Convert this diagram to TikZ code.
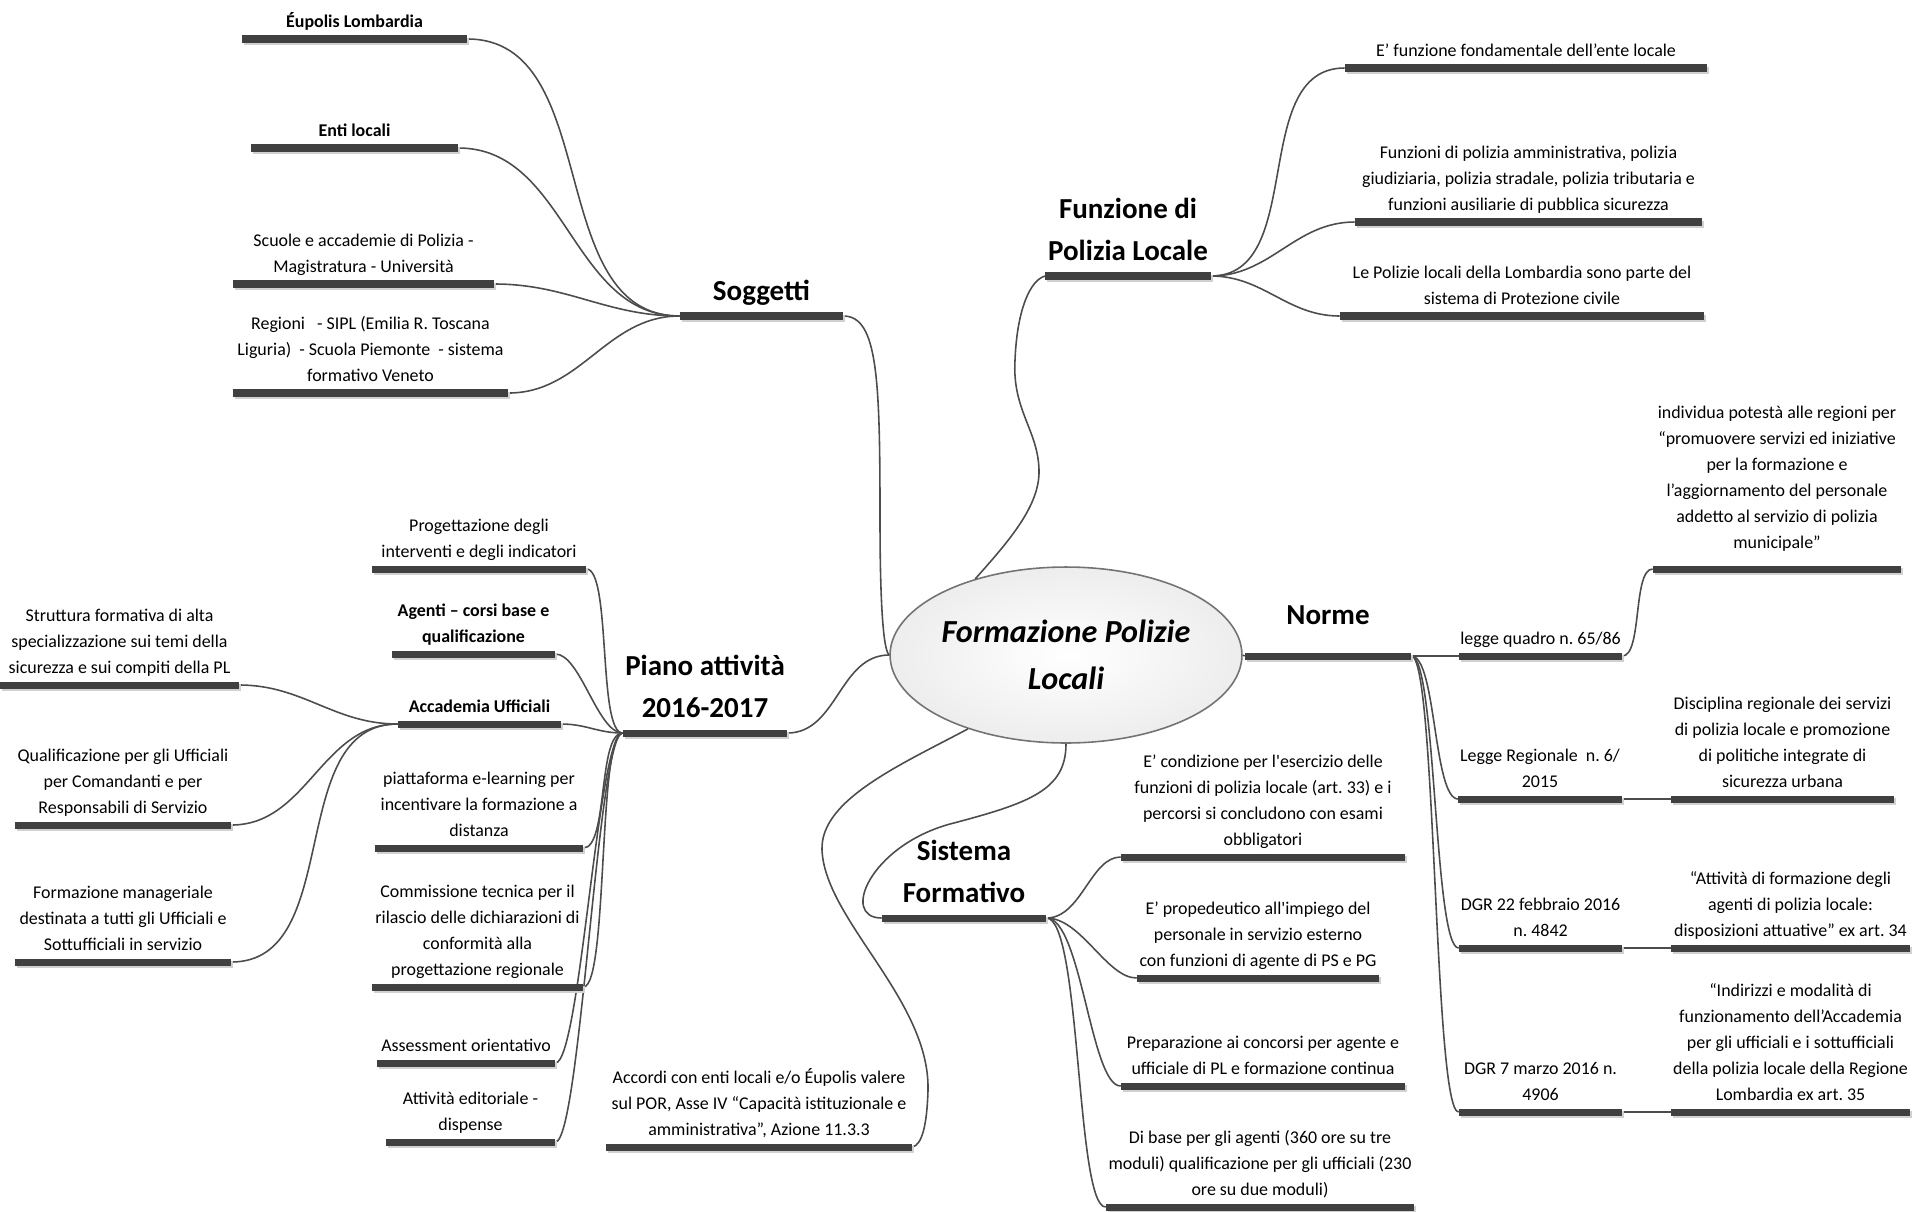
\documentclass[tikz,border=0pt]{standalone}
\usepackage{fontspec}
\setmainfont{Carlito}
\usepackage{tikz}
\usetikzlibrary{shapes.geometric}
\frenchspacing

\begin{document}
\begin{tikzpicture}[x=0.02cm, y=-0.02cm,
  leaf/.style={font=\fontsize{10.2}{14.8}\selectfont, align=center, inner xsep=0pt, inner ysep=6.6pt,
    text depth=0pt, anchor=south, minimum width=#1*0.02cm},
  leafbold/.style={leaf=#1, font=\fontsize{10.2}{14.8}\selectfont\bfseries},
  heading/.style={leaf=#1, font=\fontsize{16.5}{24}\selectfont\bfseries, inner ysep=8.5pt},
  barline/.style={line width=4pt, draw=black!75},
  barshade/.style={line width=4pt, draw=black!18},
  branch/.style={draw=black!70, line width=0.9pt},
  centre/.style={ellipse, draw=black!55, line width=0.9pt, inner color=white, outer color=black!7,
    minimum width=6cm, minimum height=3.52cm, inner sep=0pt, align=center,
    font=\fontsize{18.3}{26.7}\selectfont\bfseries\itshape}]
  \useasboundingbox (0,0) rectangle (1915,1211);

  \node[centre] (fpl) at (1066,655) {Formazione Polizie\\Locali};

  \node[heading=163] (sog) at (761.5,316) {Soggetti};
  \node[leafbold=225] (eup) at (354.5,39) {Éupolis Lombardia};
  \node[leafbold=207] (enti) at (354.5,148) {Enti locali};
  \node[leaf=261] (scuole) at (363.5,284) {Scuole e accademie di Polizia -\\Magistratura - Università};
  \node[leaf=275] (regioni) at (370.5,393) {Regioni\ \ \ - SIPL (Emilia R. Toscana\\Liguria)\ \ - Scuola Piemonte\ \ - sistema\\formativo Veneto};

  \node[heading=165] (funz) at (1128,276) {Funzione di\\Polizia Locale};
  \node[leaf=362] (f1) at (1526,68) {E’ funzione fondamentale dell’ente locale};
  \node[leaf=347] (f2) at (1528.5,222) {Funzioni di polizia amministrativa, polizia\\giudiziaria, polizia stradale, polizia tributaria e\\funzioni ausiliarie di pubblica sicurezza};
  \node[leaf=364] (f3) at (1522,316) {Le Polizie locali della Lombardia sono parte del\\sistema di Protezione civile};

  \node[heading=164] (piano) at (705,733) {Piano attività\\2016-2017};
  \node[leaf=214] (prog) at (479,569) {Progettazione degli\\interventi e degli indicatori};
  \node[leafbold=163] (agenti) at (473.5,654) {Agenti – corsi base e\\qualificazione};
  \node[leafbold=163] (accad) at (479.5,724) {Accademia Ufficiali};
  \node[leaf=239] (strutt) at (119.5,685) {Struttura formativa di alta\\specializzazione sui temi della\\sicurezza e sui compiti della PL};
  \node[leaf=216] (qualif) at (123,825) {Qualificazione per gli Ufficiali\\per Comandanti e per\\Responsabili di Servizio};
  \node[leaf=216] (manag) at (123,962) {Formazione manageriale\\destinata a tutti gli Ufficiali e\\Sottufficiali in servizio};
  \node[leaf=208] (piatt) at (479,848) {piattaforma e-learning per\\incentivare la formazione a\\distanza};
  \node[leaf=211] (comm) at (477.5,987) {Commissione tecnica per il\\rilascio delle dichiarazioni di\\conformità alla\\progettazione regionale};
  \node[leaf=178] (assess) at (466,1063) {Assessment orientativo};
  \node[leaf=169] (editor) at (470.5,1142) {Attività editoriale -\\dispense};
  \node[leaf=306] (accordi) at (759,1147) {Accordi con enti locali e/o Éupolis valere\\sul POR, Asse IV “Capacità istituzionale e\\amministrativa”, Azione 11.3.3};

  \node[heading=164] (sist) at (964,918) {Sistema\\Formativo};
  \node[leaf=284] (s1) at (1263,857) {E’ condizione per l\textquotesingle esercizio delle\\funzioni di polizia locale (art. 33) e i\\percorsi si concludono con esami\\obbligatori};
  \node[leaf=242] (s2) at (1258,978) {E’ propedeutico all\textquotesingle impiego del\\personale in servizio esterno\\con funzioni di agente di PS e PG};
  \node[leaf=284] (s3) at (1263,1086) {Preparazione ai concorsi per agente e\\ufficiale di PL e formazione continua};
  \node[leaf=308] (s4) at (1260,1207) {Di base per gli agenti (360 ore su tre\\moduli) qualificazione per gli ufficiali (230\\ore su due moduli)};

  \node[heading=166, inner ysep=17.6pt] (norme) at (1328,656) {Norme};
  \node[leaf=163] (lq) at (1540.5,656) {legge quadro n. 65/86};
  \node[leaf=248, inner ysep=11.6pt] (indiv) at (1777,569) {individua potestà alle regioni per\\“promuovere servizi ed iniziative\\per la formazione e\\l’aggiornamento del personale\\addetto al servizio di polizia\\municipale”};
  \node[leaf=163] (lr) at (1540,799) {Legge Regionale\ \ n. 6/\\2015};
  \node[leaf=223] (disc) at (1782.5,799) {Disciplina regionale dei servizi\\di polizia locale e promozione\\di politiche integrate di\\sicurezza urbana};
  \node[leaf=163] (dgr1) at (1540.5,948) {DGR 22 febbraio 2016\\n. 4842};
  \node[leaf=239] (attf) at (1790.5,948) {“Attività di formazione degli\\agenti di polizia locale:\\disposizioni attuative” ex art. 34};
  \node[leaf=163] (dgr2) at (1540.5,1112) {DGR 7 marzo 2016 n.\\4906};
  \node[leaf=239] (indir) at (1790.5,1112) {“Indirizzi e modalità di\\funzionamento dell’Accademia\\per gli ufficiali e i sottufficiali\\della polizia locale della Regione\\Lombardia ex art. 35};

  % main branches
  \draw[branch] (fpl.west) .. controls (884,652) and (880,612) .. (880,520) .. controls (880,380) and (878,316) .. (sog.south east);
  \draw[branch] (fpl.west) to[out=180, in=0] (piano.south east);
  \draw[branch] (fpl.140) .. controls (1010,540) and (1040,505) .. (1039,470) .. controls (1038,430) and (1012,410) .. (1015,360) .. controls (1017,310) and (1030,280) .. (funz.south west);
  \draw[branch] (fpl.east) -- (norme.south west);
  \draw[branch] (fpl.south) .. controls (1066,790) and (1030,803) .. (950,824) .. controls (870,846) and (840,918) .. (sist.south west);
  \draw[branch] (fpl.217) .. controls (900,765) and (820,800) .. (822,850) .. controls (825,920) and (930,1000) .. (928,1090) .. controls (927,1125) and (922,1145) .. (accordi.south east);

  \foreach \n in {eup, enti, scuole, regioni}
    \draw[branch] (\n.south east) to[out=0, in=180] (sog.south west);
  \foreach \n in {f1, f2, f3}
    \draw[branch] (funz.south east) to[out=0, in=180] (\n.south west);
  \foreach \n in {prog, agenti, accad, piatt, comm, assess, editor}
    \draw[branch] (\n.south east) .. controls +(25,0) and +(-25,0) .. (piano.south west);
  \foreach \n in {strutt, qualif, manag}
    \draw[branch] (\n.south east) to[out=0, in=180] (accad.south west);
  \foreach \n in {s1, s2, s3, s4}
    \draw[branch] (sist.south east) .. controls +(35,0) and +(-30,0) .. (\n.south west);
  \foreach \n in {lq, lr, dgr1, dgr2}
    \draw[branch] (norme.south east) .. controls +(25,0) and +(-25,0) .. (\n.south west);
  \draw[branch] (lq.south east) .. controls +(20,0) and +(-20,0) .. (indiv.south west);
  \draw[branch] (lr.south east) -- (disc.south west);
  \draw[branch] (dgr1.south east) -- (attf.south west);
  \draw[branch] (dgr2.south east) -- (indir.south west);

  \foreach \n in {sog, eup, enti, scuole, regioni, funz, f1, f2, f3, piano, prog, agenti, accad, strutt,
      qualif, manag, piatt, comm, assess, editor, accordi, sist, s1, s2, s3, s4, norme, lq, indiv,
      lr, disc, dgr1, attf, dgr2, indir} {
    \draw[barshade] ([xshift=1.2pt, yshift=-1.5pt]\n.south west) -- ([xshift=1.2pt, yshift=-1.5pt]\n.south east);
    \draw[barline] (\n.south west) -- (\n.south east);
  }
\end{tikzpicture}
\end{document}
